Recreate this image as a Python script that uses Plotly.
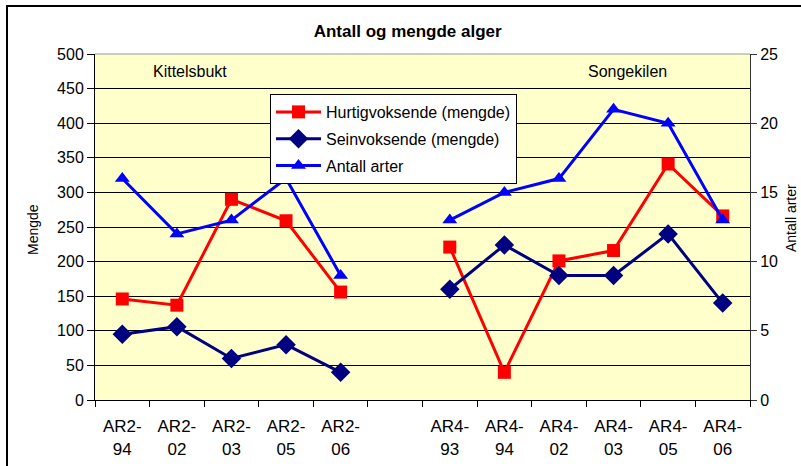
import plotly.graph_objects as go

categories = ["AR2-<br>94", "AR2-<br>02", "AR2-<br>03", "AR2-<br>05", "AR2-<br>06", " ",
              "AR4-<br>93", "AR4-<br>94", "AR4-<br>02", "AR4-<br>03", "AR4-<br>05", "AR4-<br>06"]
hurtig = [146, 137, 290, 259, 156, None, 221, 40, 201, 216, 341, 266]
sein = [95, 106, 60, 80, 40, None, 160, 224, 180, 180, 240, 140]
arter = [16, 12, 13, 16, 9, None, 13, 15, 16, 21, 20, 13]

FONT = "Liberation Sans, Arial, sans-serif"

fig = go.Figure()
fig.add_trace(go.Scatter(x=categories, y=hurtig, name="Hurtigvoksende (mengde)",
                         legendgroup="a", mode="lines+markers", connectgaps=False,
                         line=dict(color="#FF0000", width=3),
                         marker=dict(symbol="square", size=13, color="#FF0000")))
fig.add_trace(go.Scatter(x=categories, y=sein, name="Seinvoksende (mengde)",
                         legendgroup="b", mode="lines+markers", connectgaps=False,
                         line=dict(color="#000080", width=3),
                         marker=dict(symbol="diamond", size=15, color="#000080")))
fig.add_trace(go.Scatter(x=categories, y=arter, name="Antall arter", yaxis="y2",
                         legendgroup="c", mode="lines+markers", connectgaps=False,
                         line=dict(color="#0000FF", width=3),
                         marker=dict(symbol="triangle-up", size=13, color="#0000FF")))

fig.update_layout(
    width=801, height=466,
    margin=dict(l=95, r=51, t=54, b=66, autoexpand=False),
    paper_bgcolor="white", plot_bgcolor="#FFFFCC",
    font=dict(family=FONT, color="black"),
    title=dict(text="<b>Antall og mengde alger</b>", x=0.509, xanchor="center",
               y=1 - 31 / 466, yanchor="middle", font=dict(size=17, family=FONT)),
    xaxis=dict(type="category", categoryorder="array", categoryarray=categories,
               range=[-0.5, 11.5], showgrid=False, showline=True, linecolor="black",
               linewidth=1, ticks="outside", tickson="boundaries", ticklen=6,
               tickcolor="black", tickfont=dict(size=17), ticklabelstandoff=11,
               automargin=False),
    yaxis=dict(range=[0, 500], dtick=50, showgrid=True, gridcolor="black", gridwidth=1,
               showline=True, linecolor="black", linewidth=1, ticks="outside", ticklen=7,
               tickcolor="black", tickfont=dict(size=16), zeroline=False, automargin=False),
    yaxis2=dict(range=[0, 25], dtick=5, overlaying="y", side="right", showgrid=False,
                showline=True, linecolor="#333333", linewidth=1, ticks="outside",
                ticklen=6, tickcolor="#333333", tickfont=dict(size=16), zeroline=False,
                automargin=False),
    legend=dict(x=(270 - 95) / 655, y=(400 - 94) / 346, xanchor="left", yanchor="top",
                bgcolor="white", bordercolor="black", borderwidth=1, itemwidth=45,
                tracegroupgap=3, font=dict(size=16, family=FONT)),
    showlegend=True,
)

fig.add_annotation(text="Mengde", xref="paper", yref="paper", x=(33 - 95) / 655,
                   y=(400 - 230) / 346, textangle=-90, showarrow=False,
                   xanchor="center", yanchor="middle", font=dict(size=14))
fig.add_annotation(text="Antall arter", xref="paper", yref="paper", x=(791 - 95) / 655,
                   y=(400 - 218) / 346, textangle=-90, showarrow=False,
                   xanchor="center", yanchor="middle", font=dict(size=14))
fig.add_annotation(text="Kittelsbukt", xref="paper", yref="paper", x=(190 - 95) / 655,
                   y=(400 - 71) / 346, showarrow=False, xanchor="center",
                   yanchor="middle", font=dict(size=16))
fig.add_annotation(text="Songekilen", xref="paper", yref="paper", x=(627 - 95) / 655,
                   y=(400 - 71) / 346, showarrow=False, xanchor="center",
                   yanchor="middle", font=dict(size=16))

# plot-area top border (grey) and outer chart border
fig.add_shape(type="line", xref="paper", yref="paper", x0=0, x1=1, y0=1, y1=1,
              line=dict(color="#999999", width=1), layer="above")
fig.add_shape(type="rect", xref="paper", yref="paper",
              x0=(7 - 95) / 655, x1=(806 - 95) / 655,
              y0=(400 - 472) / 346, y1=(400 - 6) / 346,
              line=dict(color="black", width=2), fillcolor="rgba(0,0,0,0)", layer="above")

fig.write_html("out.html", config={"displayModeBar": False},
               post_script="document.body.style.margin='0';document.body.style.overflow='hidden';")
